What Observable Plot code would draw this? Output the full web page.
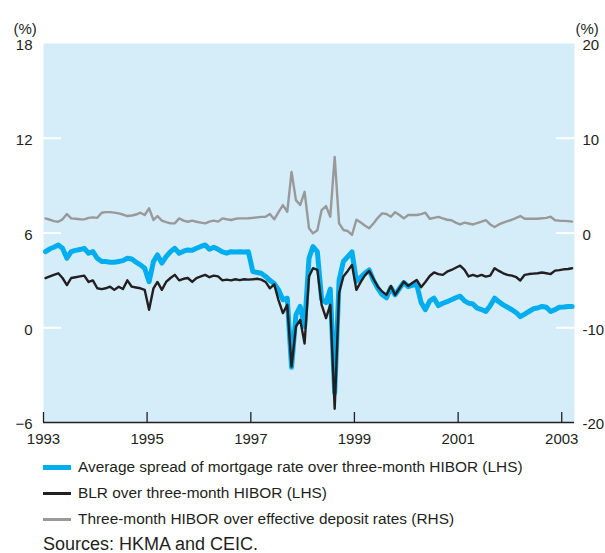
<!DOCTYPE html>
<html>
<head>
<meta charset="utf-8">
<script src="https://cdn.jsdelivr.net/npm/d3@7"></script>
<script src="https://cdn.jsdelivr.net/npm/@observablehq/plot@0.6"></script>
<style>
  body { margin: 0; background: #fff; font-family: "Liberation Sans", Arial, Helvetica, sans-serif; color: #231f20; }
  #wrap { position: relative; width: 605px; height: 553px; }
  #chart svg { display: block; }
  .row { position: absolute; left: 43px; height: 20px; display: flex; align-items: center; font-size: 15.4px; white-space: nowrap; }
  .sw { width: 28px; margin-right: 7px; }
  .src { position: absolute; left: 43px; font-size: 18px; white-space: nowrap; }
</style>
</head>
<body>
<div id="wrap">
  <div id="chart"></div>
  <div class="row" style="top:457px"><span class="sw" style="height:5px;background:#00aeef"></span>Average spread of mortgage rate over three-month HIBOR (LHS)</div>
  <div class="row" style="top:483px"><span class="sw" style="height:3px;background:#231f20"></span>BLR over three-month HIBOR (LHS)</div>
  <div class="row" style="top:509px"><span class="sw" style="height:3px;background:#999999"></span>Three-month HIBOR over effective deposit rates (RHS)</div>
  <div class="src" style="top:534px">Sources: HKMA and CEIC.</div>
</div>
<script>
// Monthly observations, January 1993 to March 2003
const firstYear = 1993;
const mortgageSpread = [
  4.82,5.0,5.1,5.24,5.03,4.4,4.82,4.9,4.95,5.03,4.72,4.82,
  4.4,4.2,4.19,4.15,4.15,4.2,4.25,4.4,4.35,4.15,3.98,3.77,
  2.92,4.19,4.61,4.09,4.5,4.82,5.03,4.72,4.85,4.93,4.9,5.03,
  5.15,5.24,4.97,5.1,4.97,4.8,4.72,4.82,4.8,4.82,4.8,4.82,
  3.56,3.5,3.45,3.25,3.0,2.8,2.4,1.77,1.87,-2.5,0.82,1.35,
  0.08,4.4,5.14,4.8,1.8,1.6,2.45,-4.13,3.0,4.2,4.5,4.8,
  2.95,3.2,3.45,3.66,3.0,2.5,2.1,1.9,2.55,2.08,2.5,2.86,
  2.6,2.7,2.75,1.6,1.14,1.7,1.87,1.4,1.55,1.65,1.77,1.9,
  2.0,1.7,1.56,1.5,1.24,1.15,1.03,1.4,1.87,1.65,1.45,1.3,
  1.14,0.95,0.7,0.87,1.03,1.2,1.25,1.35,1.3,1.03,1.15,1.3,
  1.32,1.35,1.35
];
const blrSpread = [
  3.14,3.25,3.35,3.45,3.15,2.7,3.15,3.2,3.25,3.3,2.9,3.0,
  2.5,2.45,2.5,2.6,2.4,2.6,2.45,3.0,2.6,2.55,2.5,2.4,
  1.14,2.5,2.9,2.4,2.9,3.15,3.35,3.0,3.1,3.15,2.9,3.15,
  3.25,3.35,3.2,3.3,3.25,3.0,3.05,3.0,3.07,3.02,3.07,3.05,
  3.07,3.1,3.05,2.9,2.5,2.75,1.75,0.93,1.45,-2.46,0.08,0.5,
  -1.0,3.24,3.77,3.66,1.45,0.61,1.45,-5.13,2.2,3.24,3.6,3.98,
  2.4,2.9,3.3,3.6,3.1,2.6,2.3,2.08,2.65,2.08,2.5,2.92,
  2.65,2.85,3.03,2.57,2.9,3.28,3.5,3.4,3.35,3.55,3.66,3.8,
  3.93,3.66,3.25,3.35,3.25,3.35,3.24,3.3,3.77,3.6,3.45,3.35,
  3.3,3.2,2.99,3.35,3.4,3.43,3.45,3.5,3.45,3.4,3.62,3.65,
  3.7,3.72,3.77
];
const hiborOverDeposit = [
  1.54,1.4,1.25,1.19,1.44,2.0,1.54,1.5,1.45,1.44,1.6,1.65,
  1.6,2.14,2.2,2.2,2.15,2.07,1.95,1.79,1.85,1.95,2.14,1.9,
  2.6,1.37,1.79,1.3,1.15,1.02,1.02,1.54,1.3,1.19,1.3,1.19,
  1.1,1.02,1.2,1.3,1.2,1.54,1.45,1.37,1.5,1.54,1.54,1.55,
  1.6,1.65,1.7,1.72,2.0,1.44,2.2,2.95,2.24,6.45,3.47,2.95,
  4.35,0.5,-0.04,0.3,2.42,2.84,1.72,8.03,1.02,0.32,0.21,-0.21,
  1.4,1.1,0.8,0.5,1.0,1.6,2.07,2.0,1.72,2.2,1.9,1.54,
  1.9,1.9,1.9,2.0,2.14,1.5,1.6,1.7,1.54,1.4,1.35,1.1,
  0.9,1.09,1.0,0.9,1.05,1.2,1.35,0.9,0.63,0.9,1.1,1.25,
  1.4,1.6,1.79,1.5,1.5,1.5,1.5,1.55,1.6,1.72,1.35,1.3,
  1.28,1.25,1.2
];
const leftTicks = [-6, 0, 6, 12, 18];
const leftInnerTicks = [0, 6, 12];
const rightTicks = [-20, -10, 0, 10, 20];
const rightInnerTicks = [-10, 0, 10];
const yearTicks = [1993, 1995, 1997, 1999, 2001, 2003];

const colors = { mortgage: "#00aeef", blr: "#231f20", hibor: "#999999", panel: "#d5ecf9" };

// right axis (-20..20) mapped onto the left axis (-6..18)
const toLeft = r => r * 24 / 40 + 6;
const toRight = l => Math.round((l - 6) * 40 / 24);

const rows = mortgageSpread.map((v, i) => ({
  date: new Date(Date.UTC(firstYear, i, 15)),
  mortgage: v,
  blr: blrSpread[i],
  hibor: hiborOverDeposit[i]
}));
const yearDates = yearTicks.map(y => new Date(Date.UTC(y, 0, 1)));

const W = 605, H = 455, mL = 43, mR = 31, mT = 43, mB = 33;
const innerW = W - mL - mR, innerH = H - mT - mB;

const chart = Plot.plot({
  width: W, height: H,
  marginLeft: mL, marginRight: mR, marginTop: mT, marginBottom: mB,
  style: { fontFamily: "'Liberation Sans', Arial, Helvetica, sans-serif", fontSize: "15px", color: "#231f20", background: "transparent", overflow: "visible" },
  x: { type: "utc", domain: [new Date(Date.UTC(1993, 0, 1)), new Date(Date.UTC(2003, 3, 1))] },
  y: { domain: [-6, 18] },
  marks: [
    Plot.frame({ fill: colors.panel, stroke: "none" }),
    Plot.tickY(leftInnerTicks, { y: d => d, stroke: "white", strokeWidth: 2, insetRight: innerW - 18 }),
    Plot.tickY(rightInnerTicks, { y: d => toLeft(d), stroke: "white", strokeWidth: 2, insetLeft: innerW - 18 }),
    Plot.lineY(rows, { x: "date", y: d => toLeft(d.hibor), stroke: colors.hibor, strokeWidth: 2.4 }),
    Plot.lineY(rows, { x: "date", y: "mortgage", stroke: colors.mortgage, strokeWidth: 5 }),
    Plot.lineY(rows, { x: "date", y: "blr", stroke: colors.blr, strokeWidth: 2.4 }),
    Plot.ruleY([-6], { stroke: "#231f20", strokeWidth: 1.5 }),
    Plot.tickX(yearDates, { x: d => d, stroke: "#231f20", strokeWidth: 1.3, insetTop: innerH - 10 }),
    Plot.axisX({ ticks: yearDates, tickSize: 0, tickPadding: 11, tickFormat: d3.utcFormat("%Y"), label: null }),
    Plot.axisY({ anchor: "left", ticks: leftTicks, tickSize: 0, tickPadding: 11, dy: 2, label: null }),
    Plot.axisY({ anchor: "right", ticks: rightTicks.map(toLeft), tickFormat: toRight, tickSize: 0, tickPadding: 8, dy: 2, label: null }),
    Plot.text(["(%)"], { frameAnchor: "top-left", dx: -30, dy: -20, textAnchor: "start" }),
    Plot.text(["(%)"], { frameAnchor: "top-right", dx: 1, dy: -20, textAnchor: "start" })
  ]
});
document.getElementById("chart").appendChild(chart);
</script>
</body>
</html>
